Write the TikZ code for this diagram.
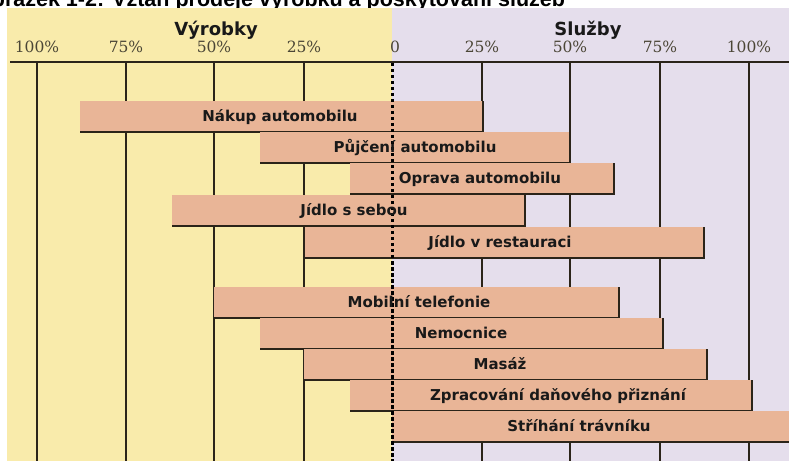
\documentclass[tikz,border=0pt]{standalone}
\usepackage{fontspec}
\newfontfamily\capfont{Liberation Sans}
\newfontfamily\headfont{DejaVu Sans}
\newfontfamily\tickfont{DejaVu Serif}

\definecolor{goodsbg}{RGB}{249,235,171}
\definecolor{servbg}{RGB}{229,222,236}
\definecolor{barfill}{RGB}{233,181,151}
\definecolor{inkline}{RGB}{43,36,25}
\definecolor{tickink}{RGB}{75,70,54}

\tikzset{
  gridline/.style={draw=inkline, line width=1.5bp},
  axisline/.style={draw=inkline, line width=1.6bp},
  zeroline/.style={draw=black, line width=3bp, dash pattern=on 3.5bp off 2.5bp},
  salesbar/.style={rectangle, fill=barfill, draw=none, inner sep=0pt, outer sep=0pt, minimum height=31bp},
  baredge/.style={draw=inkline, line width=1.5bp, line join=miter},
  ticklabel/.style={anchor=base, inner sep=0pt, text=tickink, font=\tickfont\fontsize{15.5bp}{18bp}\selectfont},
  heading/.style={anchor=base, inner sep=0pt, text=black!90, font=\headfont\bfseries\fontsize{18bp}{21bp}\selectfont},
  barlabel/.style={anchor=base, inner sep=0pt, text=black!90, font=\headfont\bfseries\fontsize{15bp}{18bp}\selectfont},
}

\begin{document}
\begin{tikzpicture}[x=1bp, y=-1bp]
\useasboundingbox (0,0) rectangle (789,461);
\clip (0,0) rectangle (789,461);

% figure caption, mostly hidden above the panel
\node[anchor=base west, inner sep=0pt, font=\capfont\bfseries\fontsize{21.5bp}{24bp}\selectfont] (caption)
  at (-25,6.5) {Obrázek 1-2: Vztah prodeje výrobku a poskytování služeb};

% the two halves: goods and services
\fill[goodsbg] (7,8) rectangle (392,461);
\fill[servbg] (392,8) rectangle (789,461);

% headings
\node[heading] (goods) at (216,36) {Výrobky};
\node[heading] (services) at (588,36) {Služby};

% scale labels
\foreach \x/\t in {37/100\%, 126/75\%, 214/50\%, 304/25\%, 395/0, 482/25\%, 570/50\%, 660/75\%, 749/100\%}
  \node[ticklabel] at (\x,53) {\t};

% axis and grid
\coordinate (axisL) at (10,62);
\coordinate (axisR) at (789,62);
\draw[axisline] (axisL) -- (axisR);
\foreach \x in {37,126,214,304,482,570,660,749}
  \draw[gridline] (\x,62) -- (\x,461);

% bars with their shadow edges
\foreach \n/\l/\r/\t in {1/80/483/101, 2/260/570/132, 3/350/614/163, 4/172/525/195, 5/305/704/227,
                         6/214/619/287, 7/260/663/318, 8/304/707/349, 9/350/752/380, 10/392/800/411}{
  \pgfmathsetmacro\w{\r-\l}
  \node[salesbar, minimum width=\w bp, anchor=north west] (b\n) at (\l,\t) {};
  \draw[baredge] (b\n.south west) -- (b\n.south east) -- (b\n.north east);
}

% zero line
\coordinate (zeroTop) at (392,63);
\coordinate (zeroBot) at (392,461);
\draw[zeroline] (zeroTop) -- (zeroBot);

% bar labels
\node[barlabel] (t1) at (280,121.5) {Nákup automobilu};
\node[barlabel] (t2) at (415,152.5) {Půjčení automobilu};
\node[barlabel] (t3) at (480,183.5) {Oprava automobilu};
\node[barlabel] (t4) at (354,215.5) {Jídlo s sebou};
\node[barlabel] (t5) at (500,247.5) {Jídlo v restauraci};
\node[barlabel] (t6) at (419,307.5) {Mobilní telefonie};
\node[barlabel] (t7) at (461,338.5) {Nemocnice};
\node[barlabel] (t8) at (500,369.5) {Masáž};
\node[barlabel] (t9) at (558,400.5) {Zpracování daňového přiznání};
\node[barlabel] (t10) at (579,431.5) {Stříhání trávníku};
\end{tikzpicture}
\end{document}
